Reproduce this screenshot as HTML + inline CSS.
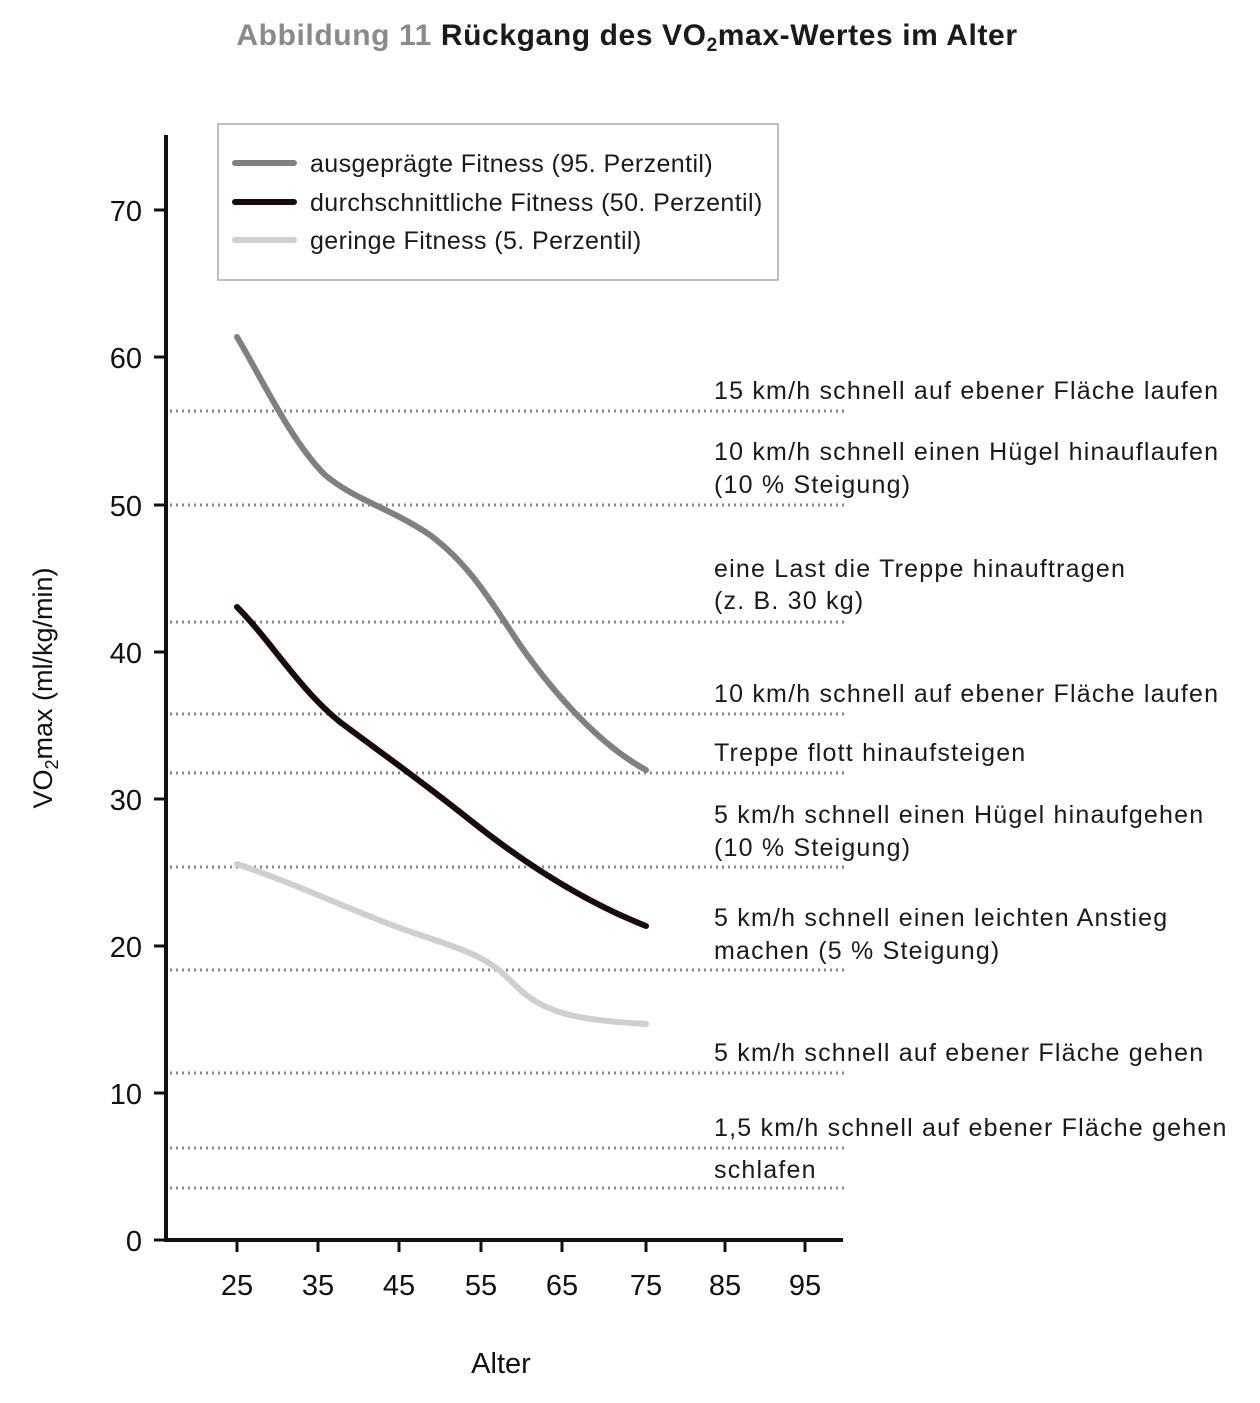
<!DOCTYPE html>
<html><head><meta charset="utf-8"><style>
html,body{margin:0;padding:0;background:#fff;}
svg{display:block;}
</style></head><body>
<svg width="1260" height="1403" viewBox="0 0 1260 1403" xmlns="http://www.w3.org/2000/svg" font-family="Liberation Sans, sans-serif">
<text x="627" y="45" text-anchor="middle" font-size="30" font-weight="bold" letter-spacing="0.6"><tspan fill="#8a8a8a">Abbildung 11 </tspan><tspan fill="#1a1a1a"> Rückgang des VO<tspan font-size="19" dy="6">2</tspan><tspan dy="-6">max-Wertes im Alter</tspan></tspan></text>

<g stroke="#888" stroke-width="3" stroke-dasharray="2,4">
<line x1="170" y1="411" x2="845" y2="411"/>
<line x1="170" y1="505" x2="845" y2="505"/>
<line x1="170" y1="622" x2="845" y2="622"/>
<line x1="170" y1="714" x2="845" y2="714"/>
<line x1="170" y1="773" x2="845" y2="773"/>
<line x1="170" y1="867" x2="845" y2="867"/>
<line x1="170" y1="970" x2="845" y2="970"/>
<line x1="170" y1="1073" x2="845" y2="1073"/>
<line x1="170" y1="1148" x2="845" y2="1148"/>
<line x1="170" y1="1188" x2="845" y2="1188"/>
</g>

<g stroke="#111" stroke-width="4" fill="none">
<line x1="166" y1="135" x2="166" y2="1242"/>
<line x1="164" y1="1240" x2="843" y2="1240"/>
</g>
<g stroke="#111" stroke-width="3">
<line x1="154" y1="1240" x2="166" y2="1240"/><line x1="154" y1="1093" x2="166" y2="1093"/>
<line x1="154" y1="946" x2="166" y2="946"/><line x1="154" y1="799" x2="166" y2="799"/>
<line x1="154" y1="652" x2="166" y2="652"/><line x1="154" y1="505" x2="166" y2="505"/>
<line x1="154" y1="357" x2="166" y2="357"/><line x1="154" y1="210" x2="166" y2="210"/>
<line x1="237" y1="1240" x2="237" y2="1252"/><line x1="318" y1="1240" x2="318" y2="1252"/>
<line x1="399" y1="1240" x2="399" y2="1252"/><line x1="481" y1="1240" x2="481" y2="1252"/>
<line x1="562" y1="1240" x2="562" y2="1252"/><line x1="646" y1="1240" x2="646" y2="1252"/>
<line x1="725" y1="1240" x2="725" y2="1252"/><line x1="805" y1="1240" x2="805" y2="1252"/>
</g>
<g font-size="29" fill="#111" text-anchor="end">
<text x="142" y="1251">0</text><text x="142" y="1104">10</text><text x="142" y="957">20</text>
<text x="142" y="810">30</text><text x="142" y="663">40</text><text x="142" y="516">50</text>
<text x="142" y="368">60</text><text x="142" y="221">70</text>
</g>
<g font-size="29" fill="#111" text-anchor="middle">
<text x="237" y="1295">25</text><text x="318" y="1295">35</text><text x="399" y="1295">45</text>
<text x="481" y="1295">55</text><text x="562" y="1295">65</text><text x="646" y="1295">75</text>
<text x="725" y="1295">85</text><text x="805" y="1295">95</text>
<text x="501" y="1373">Alter</text>
</g>
<text transform="translate(52,688) rotate(-90)" text-anchor="middle" font-size="27" fill="#111">VO<tspan font-size="18" dy="6">2</tspan><tspan dy="-6">max (ml/kg/min)</tspan></text>

<g fill="none" stroke-width="6" stroke-linecap="round">
<path stroke="#808080" d="M237,337 C260,375 290,440 325,475 C355,500 390,508 430,535 C470,565 490,600 520,645 C555,695 600,745 646,770"/>
<path stroke="#1a0a0a" d="M237,607 C270,640 300,690 340,722 C380,752 420,780 470,820 C520,860 580,900 646,926"/>
<path stroke="#cfcfcf" d="M237,864 C300,885 360,915 420,935 C480,955 490,960 515,985 C545,1015 580,1020 646,1024"/>
</g>

<rect x="218" y="124" width="560" height="156" fill="#fff" stroke="#aaa" stroke-width="1.5"/>
<g stroke-width="6" stroke-linecap="round">
<line x1="235" y1="163" x2="294" y2="163" stroke="#808080"/>
<line x1="235" y1="202" x2="294" y2="202" stroke="#1a0a0a"/>
<line x1="235" y1="240" x2="294" y2="240" stroke="#cfcfcf"/>
</g>
<g font-size="25" fill="#1a1a1a" letter-spacing="0.4">
<text x="310" y="172">ausgeprägte Fitness (95. Perzentil)</text>
<text x="310" y="211">durchschnittliche Fitness (50. Perzentil)</text>
<text x="310" y="249">geringe Fitness (5. Perzentil)</text>
</g>

<g font-size="25" fill="#1a1a1a" letter-spacing="1.2">
<text x="714" y="399">15 km/h schnell auf ebener Fläche laufen</text>
<text x="714" y="460">10 km/h schnell einen Hügel hinauflaufen</text>
<text x="714" y="493">(10 % Steigung)</text>
<text x="714" y="577">eine Last die Treppe hinauftragen</text>
<text x="714" y="609">(z. B. 30 kg)</text>
<text x="714" y="702">10 km/h schnell auf ebener Fläche laufen</text>
<text x="714" y="761">Treppe flott hinaufsteigen</text>
<text x="714" y="823">5 km/h schnell einen Hügel hinaufgehen</text>
<text x="714" y="856">(10 % Steigung)</text>
<text x="714" y="926">5 km/h schnell einen leichten Anstieg</text>
<text x="714" y="959">machen (5 % Steigung)</text>
<text x="714" y="1061">5 km/h schnell auf ebener Fläche gehen</text>
<text x="714" y="1136">1,5 km/h schnell auf ebener Fläche gehen</text>
<text x="714" y="1178">schlafen</text>
</g>
</svg>
</body></html>
